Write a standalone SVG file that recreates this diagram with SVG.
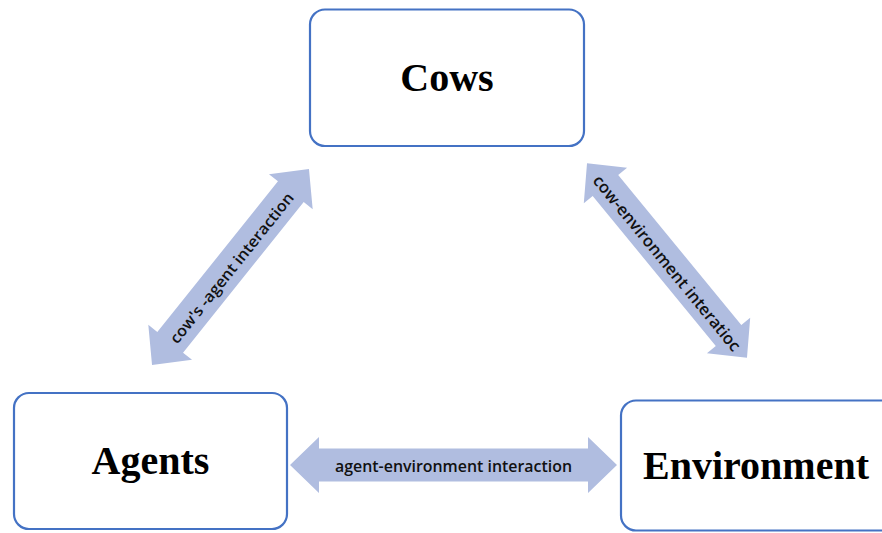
<svg xmlns="http://www.w3.org/2000/svg" width="882" height="533" viewBox="0 0 882 533">
<style>
.box{fill:#fff;stroke:#4472C4;stroke-width:2.2}
.title{font-family:"Liberation Serif","Times New Roman",serif;font-weight:bold;font-size:40px;fill:#000;text-anchor:middle}
.arr{fill:#B0BDE0}
.lab{font-family:"Open Sans","Liberation Sans",sans-serif;font-weight:600;font-size:15.5px;fill:#111;text-anchor:middle;dominant-baseline:central}
</style>
<rect width="882" height="533" fill="#fff"/>
<g id="connectors">
  <g id="agent-env" transform="translate(453.5,465)">
    <polygon class="arr" points="-163.5,0 -134.5,-28 -134.5,-16.5 134.5,-16.5 134.5,-28 163.5,0 134.5,28 134.5,16.5 -134.5,16.5 -134.5,28"/>
    <text class="lab" x="0" y="1" textLength="237" lengthAdjust="spacingAndGlyphs">agent-environment interaction</text>
  </g>
  <g id="cow-agent" transform="translate(230.5,267) rotate(-51.3)">
    <polygon class="arr" points="-125.5,0 -96.5,-28 -96.5,-16.5 96.5,-16.5 96.5,-28 125.5,0 96.5,28 96.5,16.5 -96.5,16.5 -96.5,28"/>
    <text class="lab" x="0" y="1" textLength="188" lengthAdjust="spacingAndGlyphs">cow's -agent interaction</text>
  </g>
  <g id="cow-env" transform="translate(667,260.5) rotate(50.6)">
    <polygon class="arr" points="-126,0 -97,-28 -97,-16.5 97,-16.5 97,-28 126,0 97,28 97,16.5 -97,16.5 -97,28"/>
    <text class="lab" x="2" y="1" textLength="222" lengthAdjust="spacingAndGlyphs" style="font-size:16.5px">cow-environment interatioc</text>
  </g>
</g>
<g id="cows">
  <rect class="box" x="310" y="9.5" width="274" height="136.5" rx="15"/>
  <text class="title" x="447" y="91">Cows</text>
</g>
<g id="agents">
  <rect class="box" x="14" y="393" width="273" height="136" rx="15"/>
  <text class="title" x="150.5" y="474">Agents</text>
</g>
<g id="environment">
  <rect class="box" x="621" y="400.5" width="280" height="130" rx="15"/>
  <text class="title" x="756" y="479">Environment</text>
</g>
</svg>
